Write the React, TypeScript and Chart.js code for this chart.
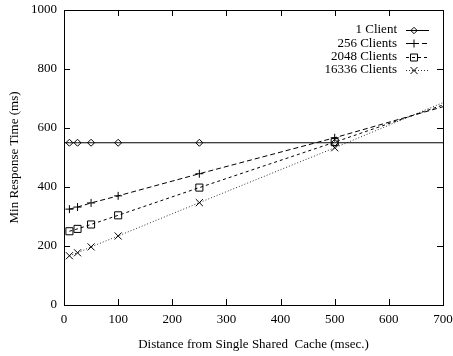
import React, { useEffect, useRef } from "react";
import { Chart, registerables } from "chart.js";

Chart.register(...registerables);

const distances = [10, 25, 50, 100, 250, 500];
const oneClient = [550, 550, 550, 550, 550, 550];
const clients256 = [325, 332, 346, 370, 445, 567];
const clients2048 = [250, 258, 273, 304, 398, 552];
const clients16336 = [167, 177, 197, 234, 347, 533];
// fitted-line continuation to the right edge (no markers)
const extendX = 700;
const oneClientStart = 550;
const extend256 = 672;
const extend2048 = 678;
const extend16336 = 686;

const seriesLabels = ["1 Client", "256 Clients", "2048 Clients", "16336 Clients"];
const xTicks = [0, 100, 200, 300, 400, 500, 600, 700];
const yTicks = [0, 200, 400, 600, 800, 1000];

const FONT = "'Liberation Serif', 'DejaVu Serif', serif";

type Sty = { marker: string; dash: number[]; color: string };
const styles: Sty[] = [
  { marker: "diamond", dash: [], color: "#000" },
  { marker: "plus", dash: [5, 3], color: "#000" },
  { marker: "square", dash: [3, 3], color: "#000" },
  { marker: "x", dash: [1, 2], color: "#333" },
];

function drawMarker(ctx: CanvasRenderingContext2D, m: string, x: number, y: number) {
  ctx.save();
  ctx.setLineDash([]);
  ctx.lineWidth = 1;
  ctx.strokeStyle = "#000";
  ctx.beginPath();
  if (m === "diamond") {
    const r = 3.2;
    ctx.moveTo(x, y - r);
    ctx.lineTo(x + r, y);
    ctx.lineTo(x, y + r);
    ctx.lineTo(x - r, y);
    ctx.closePath();
  } else if (m === "plus") {
    const r = 4;
    ctx.moveTo(x - r, y);
    ctx.lineTo(x + r, y);
    ctx.moveTo(x, y - r);
    ctx.lineTo(x, y + r);
  } else if (m === "square") {
    const r = 3.5;
    ctx.rect(x - r, y - r, 2 * r, 2 * r);
  } else {
    const r = 3.5;
    ctx.moveTo(x - r, y - r);
    ctx.lineTo(x + r, y + r);
    ctx.moveTo(x + r, y - r);
    ctx.lineTo(x - r, y + r);
  }
  ctx.stroke();
  ctx.restore();
}

const framePlugin = {
  id: "frame",
  afterDatasetsDraw(chart: any) {
    const { ctx, chartArea: a, scales } = chart;
    const xs = scales.x;
    const ys = scales.y;
    ctx.save();
    ctx.strokeStyle = "#000";
    ctx.lineWidth = 1;
    ctx.setLineDash([]);
    ctx.strokeRect(Math.round(a.left) + 0.5, Math.round(a.top) + 0.5, Math.round(a.right - a.left), Math.round(a.bottom - a.top));
    const tl = 6;
    ctx.beginPath();
    xTicks.forEach((v) => {
      const px = Math.round(xs.getPixelForValue(v)) + 0.5;
      ctx.moveTo(px, a.bottom);
      ctx.lineTo(px, a.bottom - tl);
      ctx.moveTo(px, a.top);
      ctx.lineTo(px, a.top + tl);
    });
    yTicks.forEach((v) => {
      const py = Math.round(ys.getPixelForValue(v)) + 0.5;
      ctx.moveTo(a.left, py);
      ctx.lineTo(a.left + tl, py);
      ctx.moveTo(a.right, py);
      ctx.lineTo(a.right - tl, py);
    });
    ctx.stroke();

    // legend (gnuplot style: right-aligned text, sample on the right)
    ctx.font = `13px ${FONT}`;
    ctx.fillStyle = "#000";
    ctx.textAlign = "right";
    ctx.textBaseline = "middle";
    const textRight = a.right - 46;
    const sx0 = a.right - 37;
    const sx1 = a.right - 14;
    seriesLabels.forEach((lab, i) => {
      const y = a.top + 20 + i * 13.3;
      ctx.fillText(lab, textRight, y);
      const st = styles[i];
      ctx.save();
      ctx.strokeStyle = st.color;
      ctx.setLineDash(st.dash);
      ctx.beginPath();
      ctx.moveTo(sx0, Math.round(y) + 0.5);
      ctx.lineTo(sx1, Math.round(y) + 0.5);
      ctx.stroke();
      ctx.restore();
      drawMarker(ctx, st.marker, sx0 + 8, Math.round(y) + 0.5);
    });
    ctx.restore();
  },
};

export default function App() {
  const ref = useRef<HTMLCanvasElement | null>(null);
  useEffect(() => {
    if (!ref.current) return;
    const pts = (vals: number[]) => distances.map((d, i) => ({ x: d, y: vals[i] }));
    const series = [
      [{ x: 0, y: oneClientStart }, ...pts(oneClient), { x: extendX, y: oneClientStart }],
      [...pts(clients256), { x: extendX, y: extend256 }],
      [...pts(clients2048), { x: extendX, y: extend2048 }],
      [...pts(clients16336), { x: extendX, y: extend16336 }],
    ];
    const pointStyles = ["rectRot", "cross", "rect", "crossRot"];
    const radii = [3.5, 4, 5, 5];
    const datasets = series.map((data, i) => ({
      label: seriesLabels[i],
      data,
      borderColor: styles[i].color,
      borderWidth: 1,
      borderDash: styles[i].dash,
      pointStyle: pointStyles[i],
      pointRadius: data.map((p, j) =>
        (i === 0 && (j === 0 || j === data.length - 1)) || (i > 0 && j === data.length - 1) ? 0 : radii[i]
      ),
      pointBorderColor: "#000",
      pointBorderWidth: 1,
      pointBackgroundColor: "rgba(0,0,0,0)",
      fill: false,
      tension: 0,
    }));
    const chart = new Chart(ref.current, {
      type: "line",
      data: { datasets },
      options: {
        animation: false,
        responsive: false,
        maintainAspectRatio: false,
        layout: { padding: { left: 3, top: 10, right: 10, bottom: 0 } },
        plugins: { legend: { display: false }, tooltip: { enabled: false } },
        scales: {
          x: {
            type: "linear",
            min: 0,
            max: 700,
            grid: { display: false, drawTicks: false },
            border: { display: false },
            afterBuildTicks: (s: any) => {
              s.ticks = xTicks.map((v) => ({ value: v }));
            },
            afterFit: (s: any) => {
              s.height = 51;
              s.paddingLeft = 0;
              s.paddingRight = 0;
            },
            ticks: {
              color: "#000",
              font: { family: FONT, size: 13 },
              padding: 7,
              maxRotation: 0,
              callback: (v: any) => String(v),
            },
            title: {
              display: true,
              text: "Distance from Single Shared  Cache (msec.)",
              color: "#000",
              font: { family: FONT, size: 13 },
            },
          },
          y: {
            type: "linear",
            min: 0,
            max: 1000,
            grid: { display: false, drawTicks: false },
            border: { display: false },
            afterBuildTicks: (s: any) => {
              s.ticks = yTicks.map((v) => ({ value: v }));
            },
            afterFit: (s: any) => {
              s.width = 61;
              s.paddingTop = 0;
              s.paddingBottom = 0;
            },
            ticks: {
              color: "#000",
              font: { family: FONT, size: 13 },
              padding: 7,
              callback: (v: any) => String(v),
            },
            title: {
              display: true,
              text: "Min Response Time (ms)",
              color: "#000",
              font: { family: FONT, size: 13 },
            },
          },
        },
      },
      plugins: [framePlugin],
    });
    return () => chart.destroy();
  }, []);
  return (
    <div style={{ position: "fixed", left: 0, top: 0, width: 453, height: 356, background: "#fff" }}>
      <canvas ref={ref} width={453} height={356} style={{ width: 453, height: 356, display: "block" }} />
    </div>
  );
}
